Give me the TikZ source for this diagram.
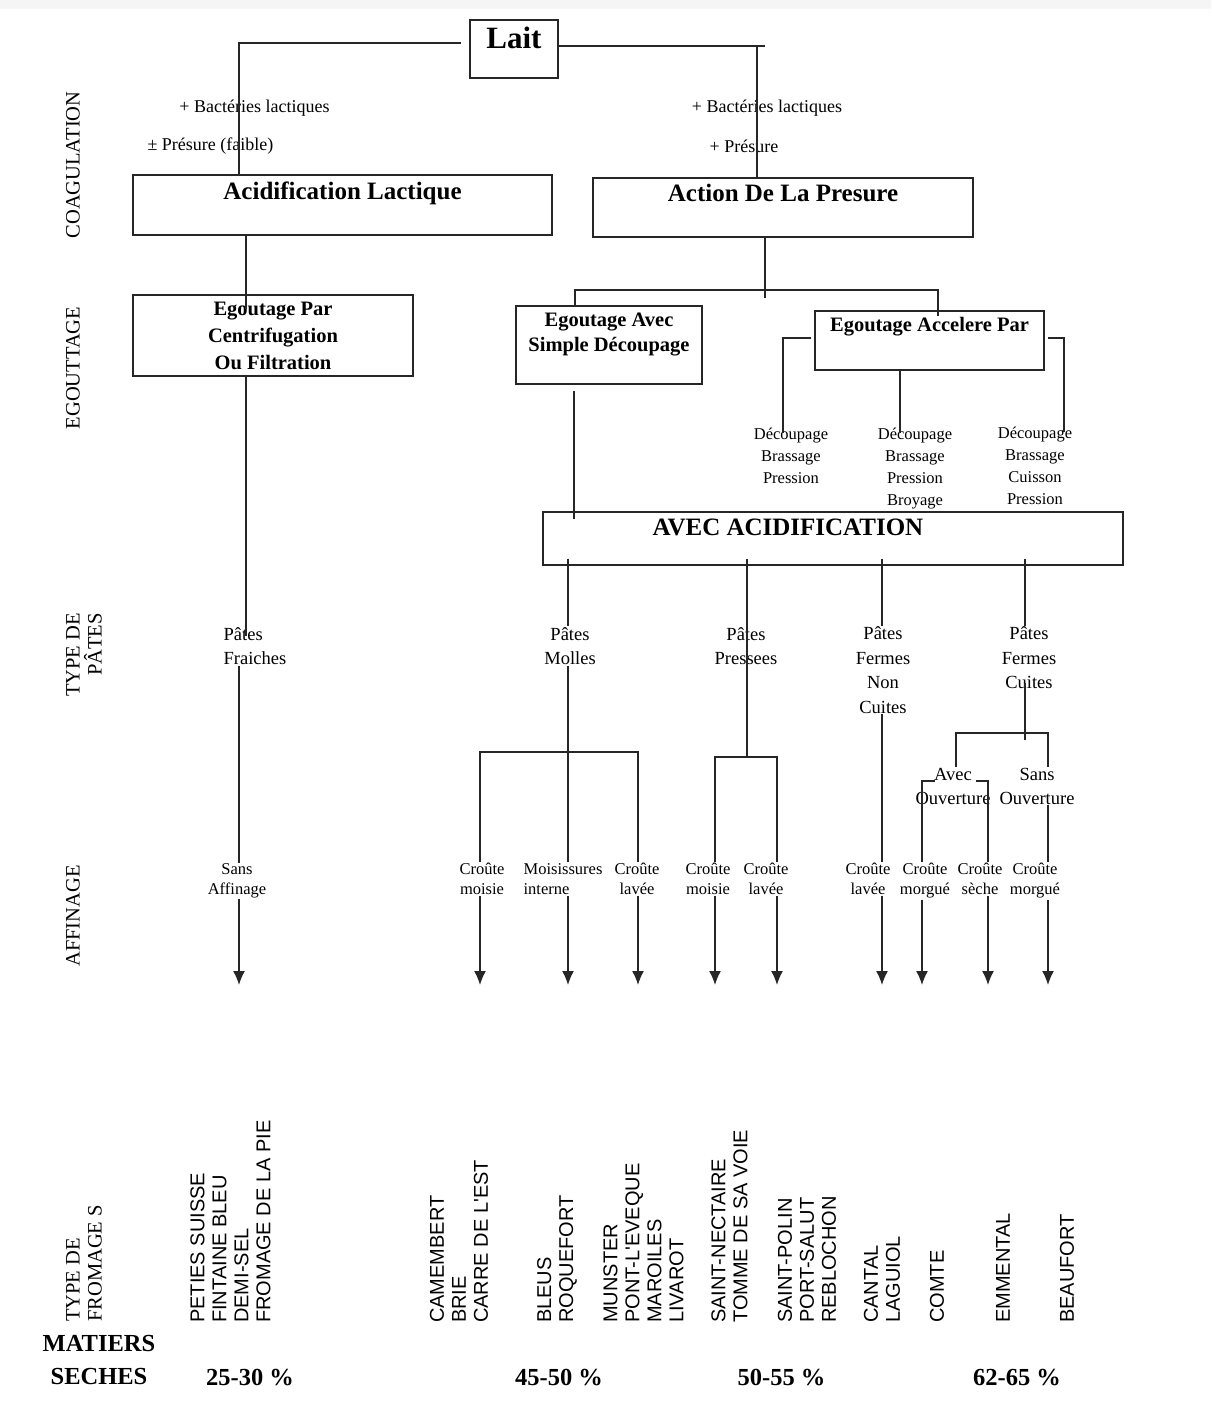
\documentclass[tikz,border=0pt]{standalone}
\usepackage{fontspec}
\setmainfont{Liberation Serif}
\newfontfamily\cheesefont{Liberation Sans}
\usetikzlibrary{positioning,arrows.meta,calc}

\newcommand{\fs}[2]{\fontsize{#1}{#2}\selectfont}

\tikzset{
  ln/.style={line width=1.5pt, draw=black!85},
  arr/.style={ln, -{Latex[length=14pt,width=12pt]}},
  box/.style={draw=black!85, line width=1.4pt, inner sep=0pt},
  headbig/.style={font=\bfseries\fs{31}{34}, inner sep=7pt, anchor=north},
  head/.style={font=\bfseries\fs{25}{30}, inner sep=7pt, anchor=north},
  egout/.style={font=\bfseries\fs{20.5}{25}, align=center, inner sep=7pt, anchor=north},
  sm/.style={font=\fs{18}{22}, inner sep=1pt},
  pate/.style={font=\fs{18.5}{24.5}, align=center, inner sep=1pt},
  dec/.style={font=\fs{16.5}{22}, align=center, inner sep=1pt},
  aff/.style={font=\fs{16.5}{20}, align=center, inner sep=1pt},
  ouv/.style={font=\fs{18.5}{24}, align=center, inner sep=1pt},
  axis/.style={font=\fs{20.5}{22}, rotate=90, align=right, inner sep=0pt},
  cheese/.style={font=\cheesefont\fs{20}{22}, rotate=90, anchor=west, align=left, inner sep=0pt},
  pct/.style={font=\bfseries\fs{24.5}{33}, align=center, inner sep=0pt}
}

\begin{document}
\begin{tikzpicture}[x=1pt,y=-1pt]
\useasboundingbox (0,0) rectangle (1211,1403);
\fill[black!4] (0,0) rectangle (1211,9);

% boxes
\node[box, minimum width=88pt, minimum height=58pt, label={[headbig]north:Lait}] (lait) at (514,49) {};
\node[box, minimum width=419pt, minimum height=60pt, label={[head]north:Acidification Lactique}] (acid) at (342.5,205) {};
\node[box, minimum width=380pt, minimum height=59pt, label={[head]north:Action De La Presure}] (action) at (783,207.5) {};
\node[box, minimum width=280pt, minimum height=81pt, font=\bfseries\fs{20.5}{27}, align=center] (egpar) at (273,335.5) {Egoutage Par\\Centrifugation\\Ou Filtration};
\node[box, minimum width=186pt, minimum height=78pt, label={[egout]north:Egoutage Avec\\Simple Découpage}] (egavec) at (609,345) {};
\node[box, minimum width=229pt, minimum height=59pt, label={[egout]north:Egoutage Accelere Par}] (egacc) at (929.5,340.5) {};
\node[box, minimum width=580pt, minimum height=53pt, label={[head, xshift=-45pt]north:AVEC ACIDIFICATION}] (avec) at (833,538.5) {};

% ajouts
\node[sm] (bl1) at (254.5,108) {+ Bactéries lactiques};
\node[sm] (pl1) at (210.5,146) {± Présure (faible)};
\node[sm] (br1) at (767,108) {+ Bactéries lactiques};
\node[sm] (pr1) at (744,146) {+ Présure};

% egouttage accelere
\node[dec] (dec1) at (791,456) {Découpage\\Brassage\\Pression};
\node[dec] (dec2) at (915,469) {Découpage\\Brassage\\Pression\\Broyage};
\node[dec] (dec3) at (1035,466) {Découpage\\Brassage\\Cuisson\\Pression};

% types de pates
\node[pate, align=left] (pf) at (255,646) {Pâtes\\Fraiches};
\node[pate] (pm) at (570,646) {Pâtes\\Molles};
\node[pate] (pp) at (746,646) {Pâtes\\Pressees};
\node[pate] (pn) at (883,670) {Pâtes\\Fermes\\Non\\Cuites};
\node[pate] (pc) at (1029,658) {Pâtes\\Fermes\\Cuites};
\node[ouv] (ao) at (953,786) {Avec\\Ouverture};
\node[ouv] (so) at (1037,786) {Sans\\Ouverture};

% affinage
\node[aff] (sa) at (237,881) {Sans\\Affinage};
\node[aff] (cm1) at (482,879) {Croûte\\moisie};
\node[aff, align=left] (mi) at (563,879) {Moisissures\\interne};
\node[aff] (cl1) at (637,879) {Croûte\\lavée};
\node[aff] (cm2) at (708,879) {Croûte\\moisie};
\node[aff] (cl2) at (766,879) {Croûte\\lavée};
\node[aff] (cl3) at (868,879) {Croûte\\lavée};
\node[aff] (cg1) at (925,881) {Croûte\\morgué};
\node[aff] (cs) at (980,879) {Croûte\\sèche};
\node[aff] (cg2) at (1035,881) {Croûte\\morgué};

% colonnes et jonctions
\coordinate (jl) at (239,43);
\coordinate (jr) at (757,46);
\coordinate (ja) at (246,250);
\coordinate (sp) at (765,290);
\coordinate (jv) at (575,290);
\coordinate (jc) at (938,290);
\coordinate (je) at (574,450);
\coordinate (kl) at (783,338);
\coordinate (kr) at (1064,338);
\coordinate (km) at (900,400);
\coordinate (jm) at (568,752);
\coordinate (jp) at (747,757);
\coordinate (jq) at (1025,733);
\coordinate (bav) at (956,733);
\coordinate (jw) at (935,781);
\coordinate (jx) at (976,781);
\coordinate (a1) at (239,985);
\coordinate (a2) at (480,985);
\coordinate (a3) at (568,985);
\coordinate (a4) at (638,985);
\coordinate (a5) at (715,985);
\coordinate (a6) at (777,985);
\coordinate (a7) at (882,985);
\coordinate (a8) at (922,985);
\coordinate (a9) at (988,985);
\coordinate (a10) at (1048,985);

% coagulation
\draw[ln] ($(lait.west |- jl)+(-8,0)$) -- (jl) -- (acid.north -| jl);
\draw[ln] (lait.east |- jr) -- ($(jr)+(8,0)$);
\draw[ln] (jr) -- (action.north -| jr);

% egouttage
\draw[ln] (acid.south -| ja) -- ($(egpar.north -| ja)+(0,15)$);
\draw[ln] (action.south -| sp) -- ($(sp)+(0,8)$);
\draw[ln] (egavec.north -| jv) -- (jv) -- (jc) -- ($(egacc.north -| jc)+(0,6)$);
\draw[ln] ($(egacc.west |- kl)+(-3,0)$) -- (kl) -- ($(dec1.north -| kl)+(0,6)$);
\draw[ln] ($(egacc.east |- kr)+(3,0)$) -- (kr) -- ($(dec3.north -| kr)+(0,6)$);
\draw[ln] (egacc.south -| km) -- ($(dec2.north -| km)+(0,6)$);
\draw[ln] ($(egavec.south -| je)+(0,6)$) -- ($(avec.north -| je)+(0,8)$);

% pates fraiches
\draw[ln] (egpar.south -| ja) -- ($(pf.north -| ja)+(0,10)$);
\draw[ln] (pf.south -| a1) -- (sa.north -| a1);
\draw[arr] (sa.south -| a1) -- (a1);

% pates molles
\draw[ln] ($(avec.south -| a3)+(0,-7)$) -- (pm.north -| a3);
\draw[ln] (pm.south -| a3) -- (mi.north -| a3);
\draw[ln] (cm1.north -| a2) -- (jm -| a2) -- (jm -| a4) -- (cl1.north -| a4);
\draw[arr] (cm1.south -| a2) -- (a2);
\draw[arr] (mi.south -| a3) -- (a3);
\draw[arr] (cl1.south -| a4) -- (a4);

% pates pressees
\draw[ln] ($(avec.south -| jp)+(0,-7)$) -- (jp);
\draw[ln] (cm2.north -| a5) -- (jp -| a5) -- (jp -| a6) -- (cl2.north -| a6);
\draw[arr] (cm2.south -| a5) -- (a5);
\draw[arr] (cl2.south -| a6) -- (a6);

% pates fermes non cuites
\draw[ln] ($(avec.south -| a7)+(0,-7)$) -- (pn.north -| a7);
\draw[ln] (pn.south -| a7) -- (cl3.north -| a7);
\draw[arr] (cl3.south -| a7) -- (a7);

% pates fermes cuites
\draw[ln] ($(avec.south -| jq)+(0,-7)$) -- (pc.north -| jq);
\draw[ln] ($(pc.south -| jq)+(0,-7)$) -- ($(jq)+(0,7)$);
\draw[ln] (ao.north -| bav) -- (bav) -- (bav -| a10) -- (so.north -| a10);
\draw[ln] (jw) -- (jw -| a8) -- (cg1.north -| a8);
\draw[ln] (jx) -- (jx -| a9) -- (cs.north -| a9);
\draw[ln] (so.south -| a10) -- (cg2.north -| a10);
\draw[arr] (cg1.south -| a8) -- (a8);
\draw[arr] (cs.south -| a9) -- (a9);
\draw[arr] (cg2.south -| a10) -- (a10);

% etapes
\node[axis] (ax1) at (73,165) {COAGULATION};
\node[axis] (ax2) at (73,368) {EGOUTTAGE};
\node[axis] (ax3) at (84,655) {TYPE DE\\PÂTES};
\node[axis] (ax4) at (73,916) {AFFINAGE};
\node[axis, anchor=west, align=left] (ax5) at (84,1322) {TYPE DE\\FROMAGE S};

% fromages
\node[cheese] (f1) at (230.5,1323) {PETIES SUISSE\\FINTAINE BLEU\\DEMI-SEL\\FROMAGE DE LA PIE};
\node[cheese] (f2) at (459,1323) {CAMEMBERT\\BRIE\\CARRE DE L'EST};
\node[cheese] (f3) at (557,1323) {BLEUS\\ROQUEFORT};
\node[cheese] (f4) at (643.5,1323) {MUNSTER\\PONT-L'EVEQUE\\MAROILES\\LIVAROT};
\node[cheese] (f5) at (729.5,1323) {SAINT-NECTAIRE\\TOMME DE SA VOIE};
\node[cheese] (f6) at (807,1323) {SAINT-POLIN\\PORT-SALUT\\REBLOCHON};
\node[cheese] (f7) at (882,1323) {CANTAL\\LAGUIOL};
\node[cheese] (f8) at (937,1323) {COMTE};
\node[cheese] (f9) at (1003,1323) {EMMENTAL};
\node[cheese] (f10) at (1067,1323) {BEAUFORT};

% matieres seches
\node[pct] (ms) at (99,1360) {MATIERS\\SECHES};
\node[pct] (p1) at (250,1377) {25-30 \%};
\node[pct] (p2) at (559,1377) {45-50 \%};
\node[pct] (p3) at (781.5,1377) {50-55 \%};
\node[pct] (p4) at (1017,1377) {62-65 \%};
\end{tikzpicture}
\end{document}
